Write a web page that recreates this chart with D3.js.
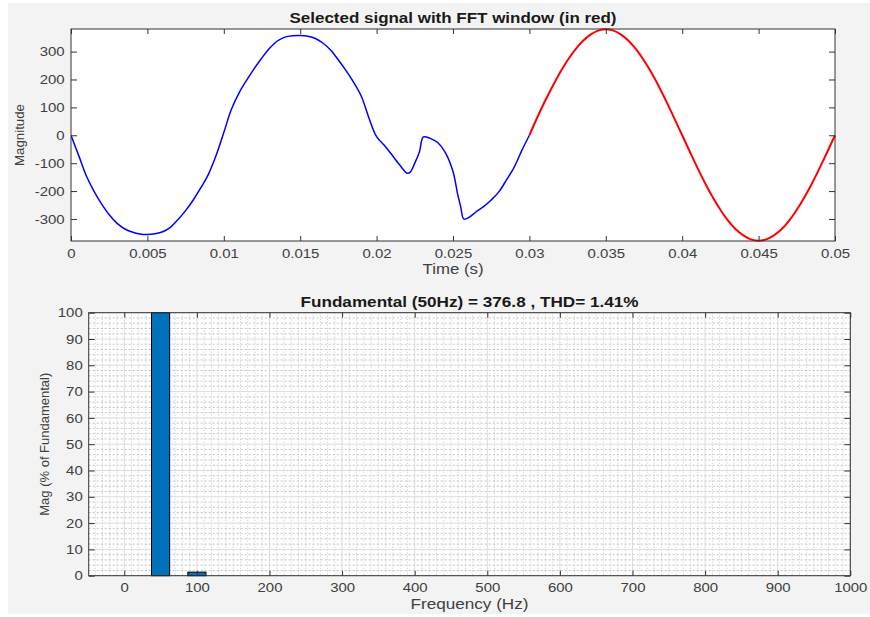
<!DOCTYPE html>
<html><head><meta charset="utf-8">
<script src="https://cdn.jsdelivr.net/npm/d3@7"></script>
<style>
html,body{margin:0;padding:0;background:#fff;}
svg{display:block;font-family:"Liberation Sans",Arial,Helvetica,sans-serif;}
</style></head>
<body>
<svg id="chart" width="870" height="617"></svg>
<script>
// ---------- DATA ----------
// Top plot: selected signal (blue), FFT window (red)
const timeBlue = [0,0.0005,0.001,0.0015,0.002,0.0025,0.003,0.0035,0.004,0.0045,0.005,0.0055,0.006,0.0065,0.007,0.0075,0.008,0.0085,0.009,0.0095,0.010,0.0105,0.011,0.0115,0.012,0.0125,0.013,0.0135,0.014,0.0145,0.015,0.0155,0.016,0.0165,0.017,0.0175,0.018,0.0185,0.019,0.0195,0.020,0.0205,0.021,0.0215,0.022,0.0222,0.0225,0.0228,0.02306,0.0235,0.024,0.0245,0.025,0.0253,0.0255,0.0257,0.026,0.0265,0.027,0.0275,0.028,0.0285,0.029,0.0295,0.030];
const valueBlue = [0,-72,-145,-200,-246,-285,-315,-335,-347,-354,-356,-353,-346,-330,-302,-270,-232,-188,-139,-72,10,93,152,198,240,278,312,338,352,357,358,355,347,330,305,270,232,190,140,62,-5,-36,-70,-106,-136,-132,-100,-60,-6,-11,-26,-62,-130,-210,-255,-300,-296,-275,-256,-232,-203,-160,-115,-55,0];
const timeRed = [0.030,0.0305,0.031,0.0315,0.032,0.0325,0.033,0.0335,0.034,0.0345,0.035,0.0355,0.036,0.0365,0.037,0.0375,0.038,0.0385,0.039,0.0395,0.040,0.0405,0.041,0.0415,0.042,0.0425,0.043,0.0435,0.044,0.0445,0.045,0.0455,0.046,0.0465,0.047,0.0475,0.048,0.0485,0.049,0.0495,0.050];
const valueRed = [0,62,120,174,224,269,307,338,361,375,380,375,361,338,307,268,223,172,117,59,0,-59,-117,-172,-222,-267,-306,-337,-359,-373,-378,-373,-359,-337,-306,-267,-222,-172,-117,-59,0];
const topXTicks = [0,0.005,0.01,0.015,0.02,0.025,0.03,0.035,0.04,0.045,0.05];
const topXTickLabels = ["0","0.005","0.01","0.015","0.02","0.025","0.03","0.035","0.04","0.045","0.05"];
const topYTicks = [-300,-200,-100,0,100,200,300];
const topYTickLabels = ["-300","-200","-100","0","100","200","300"];

// Bottom plot: harmonic spectrum
const harmonicFreq = [50, 100];
const harmonicMag = [100, 1.35];
const botXTicks = [0,100,200,300,400,500,600,700,800,900,1000];
const botXTickLabels = ["0","100","200","300","400","500","600","700","800","900","1000"];
const botYTicks = [0,10,20,30,40,50,60,70,80,90,100];
const botYTickLabels = ["0","10","20","30","40","50","60","70","80","90","100"];

const title1 = "Selected signal with FFT window (in red)";
const title2 = "Fundamental (50Hz) = 376.8 , THD= 1.41%";

// ---------- LAYOUT ----------
const svg = d3.select("#chart");
svg.append("rect").attr("x",8).attr("y",3).attr("width",862).attr("height",611).attr("fill","#f3f3f3");

const AX = "#333333", LBL = "#404040", TXT = "#1a1a1a";
const SX = 1.15;

function styleAxis(g, scaleText){
  g.select(".domain").remove();
  g.selectAll(".tick line").attr("stroke",AX).attr("stroke-width",1);
  g.selectAll(".tick text").attr("fill",LBL).attr("font-size",13)
    .attr("font-family","'Liberation Sans',Arial,sans-serif");
  if(scaleText) g.selectAll(".tick text").attr("transform",`scale(${SX},1)`);
}

// ---------- TOP PLOT ----------
const T = {l:71, r:835, t:29, b:241};
const xT = d3.scaleLinear().domain([0,0.05]).range([T.l,T.r]);
const yT = d3.scaleLinear().domain([-379,381]).range([T.b,T.t]);

svg.append("rect").attr("x",T.l).attr("y",T.t).attr("width",T.r-T.l).attr("height",T.b-T.t).attr("fill","#fff");

const lineT = d3.line().x((d)=>xT(d[0])).y((d)=>yT(d[1])).curve(d3.curveCatmullRom.alpha(0.5));
svg.append("defs").append("clipPath").attr("id","clipT")
  .append("rect").attr("x",T.l).attr("y",T.t-2).attr("width",T.r-T.l+1).attr("height",T.b-T.t+4);

svg.append("path").datum(timeBlue.map((t,i)=>[t,valueBlue[i]]))
  .attr("d",lineT).attr("fill","none").attr("stroke","#0000ff").attr("stroke-width",1.5)
  .attr("clip-path","url(#clipT)");
svg.append("path").datum(timeRed.map((t,i)=>[t,valueRed[i]]))
  .attr("d",lineT).attr("fill","none").attr("stroke","#ff0000").attr("stroke-width",2)
  .attr("clip-path","url(#clipT)");

svg.append("g").attr("transform",`translate(0,${T.b})`)
  .call(d3.axisBottom(xT).tickValues(topXTicks).tickFormat((d,i)=>topXTickLabels[i]).tickSizeInner(-5).tickSizeOuter(0).tickPadding(8))
  .call((g)=>styleAxis(g,true));
svg.append("g").attr("transform",`translate(0,${T.t})`)
  .call(d3.axisTop(xT).tickValues(topXTicks).tickFormat("").tickSizeInner(-5).tickSizeOuter(0))
  .call((g)=>styleAxis(g,false));
svg.append("g").attr("transform",`translate(${T.l},0)`)
  .call(d3.axisLeft(yT).tickValues(topYTicks).tickFormat((d,i)=>topYTickLabels[i]).tickSizeInner(-6).tickSizeOuter(0).tickPadding(5.5))
  .call((g)=>styleAxis(g,true));
svg.append("g").attr("transform",`translate(${T.r},0)`)
  .call(d3.axisRight(yT).tickValues(topYTicks).tickFormat("").tickSizeInner(-6).tickSizeOuter(0))
  .call((g)=>styleAxis(g,false));
svg.append("rect").attr("x",T.l).attr("y",T.t).attr("width",T.r-T.l).attr("height",T.b-T.t)
  .attr("fill","none").attr("stroke",AX).attr("stroke-width",1);

svg.append("text").attr("x",(T.l+T.r)/2).attr("y",23).attr("text-anchor","middle")
  .attr("font-size",14).attr("font-weight","bold").attr("fill",TXT)
  .attr("textLength",327).attr("lengthAdjust","spacingAndGlyphs").text(title1);
svg.append("text").attr("x",(T.l+T.r)/2).attr("y",274).attr("text-anchor","middle")
  .attr("font-size",14).attr("fill",LBL)
  .attr("textLength",61).attr("lengthAdjust","spacingAndGlyphs").text("Time (s)");
svg.append("text").attr("transform",`translate(24,${(T.t+T.b)/2}) rotate(-90)`).attr("text-anchor","middle")
  .attr("font-size",13).attr("fill",LBL)
  .attr("textLength",62).attr("lengthAdjust","spacingAndGlyphs").text("Magnitude");

// ---------- BOTTOM PLOT ----------
const B = {l:88.7, r:850.3, t:312.7, b:575.7};
const xB = d3.scaleLinear().domain([-49,1000]).range([B.l,B.r]);
const yB = d3.scaleLinear().domain([0,100]).range([B.b,B.t]);

svg.append("rect").attr("x",B.l).attr("y",B.t).attr("width",B.r-B.l).attr("height",B.b-B.t).attr("fill","#fff");

// minor grid
const minorX = d3.range(-40,1000,10).filter((v)=>v%100!==0);
const minorY = d3.range(2,100,2).filter((v)=>v%10!==0);
const grid = svg.append("g");
grid.selectAll(".mx").data(minorX).join("line")
  .attr("x1",(d)=>xB(d)).attr("x2",(d)=>xB(d)).attr("y1",B.t).attr("y2",B.b)
  .attr("stroke","#b4b4b4").attr("stroke-width",0.8).attr("stroke-dasharray","1,2");
grid.selectAll(".my").data(minorY).join("line")
  .attr("x1",B.l).attr("x2",B.r).attr("y1",(d)=>yB(d)).attr("y2",(d)=>yB(d))
  .attr("stroke","#b4b4b4").attr("stroke-width",0.8).attr("stroke-dasharray","2,2");
// major grid
grid.selectAll(".Mx").data(botXTicks).join("line")
  .attr("x1",(d)=>xB(d)).attr("x2",(d)=>xB(d)).attr("y1",B.t).attr("y2",B.b)
  .attr("stroke","#dcdcdc").attr("stroke-width",1);
grid.selectAll(".My").data(botYTicks).join("line")
  .attr("x1",B.l).attr("x2",B.r).attr("y1",(d)=>yB(d)).attr("y2",(d)=>yB(d))
  .attr("stroke","#dcdcdc").attr("stroke-width",1);

const barW = 25;
svg.append("g").selectAll("rect").data(harmonicFreq).join("rect")
  .attr("x",(d)=>xB(d-barW/2)).attr("width",(d)=>xB(d+barW/2)-xB(d-barW/2))
  .attr("y",(d,i)=>yB(harmonicMag[i])).attr("height",(d,i)=>yB(0)-yB(harmonicMag[i]))
  .attr("fill","#0072bd").attr("stroke","#000").attr("stroke-width",1);

svg.append("g").attr("transform",`translate(0,${B.b})`)
  .call(d3.axisBottom(xB).tickValues(botXTicks).tickFormat((d,i)=>botXTickLabels[i]).tickSizeInner(-5).tickSizeOuter(0).tickPadding(7))
  .call((g)=>styleAxis(g,true));
svg.append("g").attr("transform",`translate(0,${B.t})`)
  .call(d3.axisTop(xB).tickValues(botXTicks).tickFormat("").tickSizeInner(-5).tickSizeOuter(0))
  .call((g)=>styleAxis(g,false));
svg.append("g").attr("transform",`translate(${B.l},0)`)
  .call(d3.axisLeft(yB).tickValues(botYTicks).tickFormat((d,i)=>botYTickLabels[i]).tickSizeInner(-6).tickSizeOuter(0).tickPadding(5.2))
  .call((g)=>styleAxis(g,true));
svg.append("g").attr("transform",`translate(${B.r},0)`)
  .call(d3.axisRight(yB).tickValues(botYTicks).tickFormat("").tickSizeInner(-6).tickSizeOuter(0))
  .call((g)=>styleAxis(g,false));
svg.append("rect").attr("x",B.l).attr("y",B.t).attr("width",B.r-B.l).attr("height",B.b-B.t)
  .attr("fill","none").attr("stroke",AX).attr("stroke-width",1);

svg.append("text").attr("x",(B.l+B.r)/2).attr("y",307).attr("text-anchor","middle")
  .attr("font-size",14).attr("font-weight","bold").attr("fill",TXT)
  .attr("textLength",338).attr("lengthAdjust","spacingAndGlyphs").text(title2);
svg.append("text").attr("x",(B.l+B.r)/2).attr("y",609).attr("text-anchor","middle")
  .attr("font-size",14).attr("fill",LBL)
  .attr("textLength",118).attr("lengthAdjust","spacingAndGlyphs").text("Frequency (Hz)");
svg.append("text").attr("transform",`translate(49,${(B.t+B.b)/2}) rotate(-90)`).attr("text-anchor","middle")
  .attr("font-size",13).attr("fill",LBL)
  .attr("textLength",143).attr("lengthAdjust","spacingAndGlyphs").text("Mag (% of Fundamental)");
</script>
</body></html>
